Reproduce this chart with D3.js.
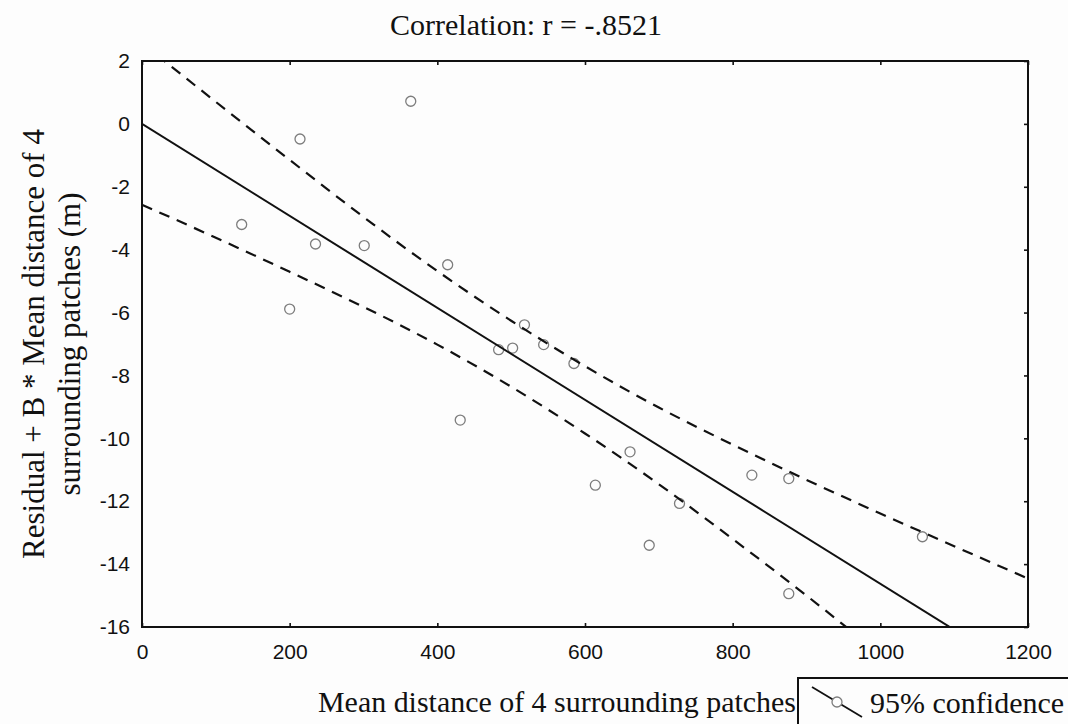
<!DOCTYPE html>
<html><head><meta charset="utf-8">
<script src="https://cdn.jsdelivr.net/npm/d3@7"></script>
<style>
html,body{margin:0;padding:0;background:#fdfdfd;}
svg{display:block;}
</style></head>
<body>
<svg id="chart" width="1068" height="724"></svg>
<script>
// ---- data ----
const titleText = "Correlation: r = -.8521";
const xTitle = "Mean distance of 4 surrounding patches";
const yTitleLines = ["Residual + B * Mean distance of 4", "surrounding patches (m)"];
const legendLabel = "95% confidence";

const xTicks = [0, 200, 400, 600, 800, 1000, 1200];
const yTicks = [2, 0, -2, -4, -6, -8, -10, -12, -14, -16];

const pointX = [135, 200, 214, 235, 301, 364, 414, 431, 483, 502, 518, 544, 585, 614, 661, 687, 728, 826, 876, 876, 1057];
const pointY = [-3.2, -5.89, -0.48, -3.82, -3.87, 0.72, -4.48, -9.42, -7.18, -7.13, -6.39, -7.02, -7.62, -11.49, -10.43, -13.4, -12.07, -11.17, -11.28, -14.94, -13.13];

const fitX = [0, 1200];
const fitY = [0, -17.55];

const bandX = [0, 100, 200, 300, 400, 500, 600, 700, 800, 900, 1000, 1100, 1200];
const upperY = [2.57, 0.70, -1.145, -2.96, -4.68, -6.26, -7.705, -9.02, -10.20, -11.32, -12.39, -13.43, -14.46];
const lowerY = [-2.57, -3.62, -4.705, -5.82, -7.02, -8.36, -9.845, -11.46, -13.20, -15.00, -16.87, -18.75, -20.64];

// ---- layout ----
const svg = d3.select("#chart");
const L = 142, R = 1028, T = 61, B = 627;
const x = d3.scaleLinear().domain([0, 1200]).range([L, R]);
const y = d3.scaleLinear().domain([-16, 2]).range([B, T]);

svg.append("rect").attr("width", 1068).attr("height", 724).attr("fill", "#fdfdfd");

const defs = svg.append("defs");
defs.append("clipPath").attr("id", "plotclip")
  .append("rect").attr("x", L).attr("y", T).attr("width", R - L).attr("height", B - T);

const tickFont = "'Liberation Sans', Arial, sans-serif";
const serif = "'Liberation Serif', 'Times New Roman', serif";
const fmt = d => String(d);

// points
const plot = svg.append("g").attr("clip-path", "url(#plotclip)");
plot.selectAll("circle.pt").data(pointX.map((v, i) => [v, pointY[i]]))
  .enter().append("circle").attr("class", "pt")
  .attr("cx", d => x(d[0])).attr("cy", d => y(d[1])).attr("r", 5)
  .attr("fill", "none").attr("stroke", "#7d7d7d").attr("stroke-width", 1.3);

// regression line
const line = d3.line().x(d => x(d[0])).y(d => y(d[1]));
plot.append("path").datum(fitX.map((v, i) => [v, fitY[i]]))
  .attr("d", line).attr("fill", "none").attr("stroke", "#111").attr("stroke-width", 2);

// confidence bands
const curve = d3.line().x(d => x(d[0])).y(d => y(d[1])).curve(d3.curveNatural);
[upperY, lowerY].forEach(arr => {
  plot.append("path").datum(bandX.map((v, i) => [v, arr[i]]))
    .attr("d", curve).attr("fill", "none").attr("stroke", "#111")
    .attr("stroke-width", 2.2).attr("stroke-dasharray", "11,8");
});

// axes
const gBottom = svg.append("g").attr("transform", `translate(0,${B})`)
  .call(d3.axisBottom(x).tickValues(xTicks).tickFormat(fmt).tickSizeInner(-4).tickSizeOuter(0).tickPadding(17));
const gTop = svg.append("g").attr("transform", `translate(0,${T})`)
  .call(d3.axisTop(x).tickValues(xTicks).tickSizeInner(-4).tickSizeOuter(0).tickFormat(""));
const gLeft = svg.append("g").attr("transform", `translate(${L},0)`)
  .call(d3.axisLeft(y).tickValues(yTicks).tickFormat(fmt).tickSizeInner(0).tickSizeOuter(0).tickPadding(12));
const gRight = svg.append("g").attr("transform", `translate(${R},0)`)
  .call(d3.axisRight(y).tickValues(yTicks).tickSizeInner(-4).tickSizeOuter(0).tickFormat(""));

[gBottom, gTop, gLeft, gRight].forEach(g => {
  g.select(".domain").remove();
  g.selectAll("line").attr("stroke", "#111").attr("stroke-width", 1.6);
  g.selectAll("text").attr("font-family", tickFont).attr("font-size", 21).attr("fill", "#111");
});

// frame
svg.append("rect").attr("x", L).attr("y", T).attr("width", R - L).attr("height", B - T)
  .attr("fill", "none").attr("stroke", "#111").attr("stroke-width", 2);

// title
svg.append("text").attr("x", 526).attr("y", 35).attr("text-anchor", "middle")
  .attr("font-family", serif).attr("font-size", 30).attr("fill", "#111").text(titleText);

// x title
svg.append("text").attr("x", 318).attr("y", 712).attr("text-anchor", "start")
  .attr("font-family", serif).attr("font-size", 30).attr("fill", "#111")
  .attr("textLength", 478).attr("lengthAdjust", "spacingAndGlyphs").text(xTitle);

// y title
const yt = svg.append("text").attr("transform", `translate(0,${(T + B) / 2}) rotate(-90)`)
  .attr("text-anchor", "middle").attr("font-family", serif).attr("font-size", 31).attr("fill", "#111");
yTitleLines.forEach((s, i) => {
  yt.append("tspan").attr("x", 0).attr("y", i === 0 ? 44 : 80).text(s);
});

// legend
const lg = svg.append("g");
lg.append("rect").attr("x", 798).attr("y", 678).attr("width", 300).attr("height", 80)
  .attr("fill", "#fdfdfd").attr("stroke", "#111").attr("stroke-width", 2);
lg.append("line").attr("x1", 812).attr("y1", 687).attr("x2", 862).attr("y2", 717)
  .attr("stroke", "#111").attr("stroke-width", 1.8);
lg.append("circle").attr("cx", 837).attr("cy", 702).attr("r", 5)
  .attr("fill", "#fdfdfd").attr("stroke", "#7d7d7d").attr("stroke-width", 1.3);
lg.append("text").attr("x", 870).attr("y", 713).attr("font-family", serif).attr("font-size", 30)
  .attr("fill", "#111").text(legendLabel);
</script>
</body></html>
